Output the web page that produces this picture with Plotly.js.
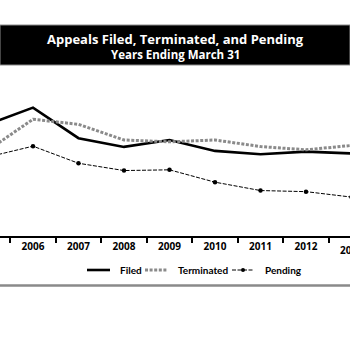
<!DOCTYPE html>
<html>
<head>
<meta charset="utf-8">
<script src="https://cdn.plot.ly/plotly-3.0.1.min.js"></script>
<style>html,body{margin:0;padding:0;background:#fff;overflow:hidden}#chart{width:350px;height:350px}</style>
</head>
<body>
<div id="chart"></div>
<script>
var years = ["2005","2006","2007","2008","2009","2010","2011","2012","2013"];
var filed = [63700, 68300, 59900, 57500, 59400, 56400, 55500, 56200, 55700];
var terminated = [56500, 65100, 63700, 59400, 58900, 59400, 57600, 56700, 57900];
var pending = [54700, 57700, 53000, 51000, 51200, 47800, 45500, 45200, 43700];
var seriesNames = ["Filed", "Terminated", "Pending"];
var titleLine1 = "Appeals Filed, Terminated, and Pending";
var titleLine2 = "Years Ending March 31";
var FONT = "Open Sans, Noto Sans, sans-serif";
var LEGFONT = "Lato, Open Sans, sans-serif";

var lineStyles = [
  {color: "#000", width: 2.6},
  {color: "#8a8a8a", width: 3, dash: "3px,1.6px"},
  {color: "#000", width: 1, dash: "4px,1.5px"}
];

var traces = [
  {x: years, y: filed, name: seriesNames[0], type: "scatter", mode: "lines", line: lineStyles[0]},
  {x: years, y: terminated, name: seriesNames[1], type: "scatter", mode: "lines", line: lineStyles[1]},
  {x: years, y: pending, name: seriesNames[2], type: "scatter", mode: "lines+markers", line: lineStyles[2],
   marker: {color: "#000", size: 4.5, symbol: "circle"}}
];

// pixel helpers for paper coordinates (plot area: x 0..350, y 75..236)
function px(X) { return X / 350; }
function py(Y) { return (236 - Y) / 161; }

var legY = 270;
var legendItems = [
  {x0: 87, x1: 110, tx: 118},
  {x0: 145, x1: 168, tx: 176},
  {x0: 232, x1: 253, tx: 263}
];

var shapes = [
  {type: "rect", xref: "paper", yref: "paper", x0: 0, x1: 1, y0: py(65), y1: py(25),
   fillcolor: "#000", line: {color: "#8a8a8a", width: 1}, layer: "below"},
  {type: "line", xref: "paper", yref: "paper", x0: 0, x1: 1, y0: py(285.5), y1: py(285.5),
   line: {color: "#8a8a8a", width: 2.5}}
];
var annotations = [
  {text: titleLine1, xref: "paper", yref: "paper", x: 0.5, y: py(38.5), xanchor: "center", yanchor: "middle",
   showarrow: false, font: {family: FONT, size: 13, color: "#fff", weight: "bold"}},
  {text: titleLine2, xref: "paper", yref: "paper", x: 0.5, y: py(54.5), xanchor: "center", yanchor: "middle",
   showarrow: false, font: {family: FONT, size: 11.5, color: "#fff", weight: "bold"}},
  {text: years[8], xref: "paper", yref: "paper", x: px(351.5), y: py(250), xanchor: "center", yanchor: "middle",
   showarrow: false, font: {family: FONT, size: 10, color: "#000", weight: "bold"}}
];

legendItems.forEach(function (it, i) {
  var st = lineStyles[i];
  shapes.push({type: "line", xref: "paper", yref: "paper", x0: px(it.x0), x1: px(it.x1), y0: py(legY), y1: py(legY),
    line: {color: st.color, width: st.width, dash: st.dash || "solid"}});
  annotations.push({text: seriesNames[i], xref: "paper", yref: "paper", x: px(it.tx), y: py(legY),
    xanchor: "left", yanchor: "middle", showarrow: false,
    font: {family: LEGFONT, size: 10, color: "#000", weight: "bold"}});
});
shapes.push({type: "circle", xref: "paper", yref: "paper", x0: px(241), x1: px(245), y0: py(272), y1: py(268),
  fillcolor: "#000", line: {color: "#000", width: 0}});

var layout = {
  width: 350, height: 350,
  margin: {l: 0, r: 0, t: 75, b: 114, pad: 0},
  paper_bgcolor: "#fff", plot_bgcolor: "#fff",
  showlegend: false,
  font: {family: FONT, color: "#000"},
  xaxis: {
    type: "category", range: [0.275, 7.967],
    tickson: "boundaries", ticks: "outside", ticklen: 5, tickwidth: 2, tickcolor: "#000",
    showline: true, linecolor: "#000", linewidth: 2,
    showgrid: false, zeroline: false, fixedrange: true,
    tickfont: {family: FONT, size: 10, color: "#000", weight: "bold"}
  },
  yaxis: {
    range: [33000, 77275], visible: false, showgrid: false, zeroline: false, fixedrange: true
  },
  shapes: shapes,
  annotations: annotations
};

Plotly.newPlot("chart", traces, layout, {staticPlot: true, displayModeBar: false});
</script>
</body>
</html>
